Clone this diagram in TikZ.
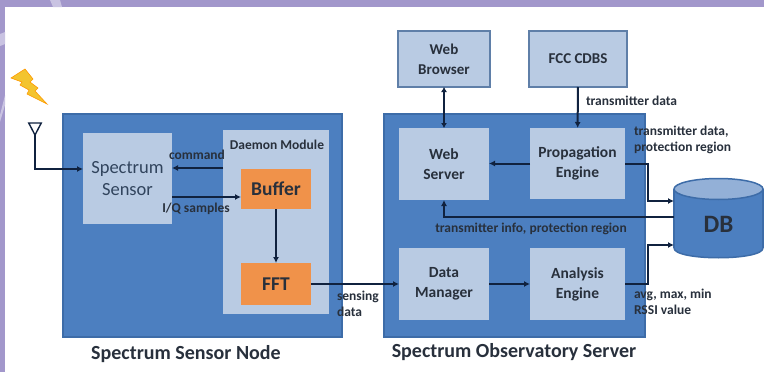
\documentclass[tikz,border=0pt]{standalone}
\usepackage{fontspec}
\setmainfont{Carlito}
\usetikzlibrary{arrows.meta,shapes.geometric}
\definecolor{lav}{HTML}{A297CB}
\definecolor{lavlt}{HTML}{C9C3E2}
\definecolor{outer}{HTML}{4C7FC0}
\definecolor{outerbd}{HTML}{3D6CA8}
\definecolor{inner}{HTML}{B9CBE3}
\definecolor{innerbd}{HTML}{5F7FA8}
\definecolor{orangebox}{HTML}{F0924A}
\definecolor{ink}{HTML}{28303C}
\definecolor{wire}{HTML}{10223F}
\definecolor{boltfill}{HTML}{F3C42E}
\tikzset{
  x=1pt,y=-1pt,
  every node/.style={inner sep=0pt,outer sep=0pt,align=center,text=ink,font=\bfseries\fontsize{13.5}{16}\selectfont},
  outerbox/.style={draw=outerbd,line width=1.5pt,fill=outer},
  lightbox/.style={fill=inner,draw=none,font=\bfseries\fontsize{15.5}{20}\selectfont},
  framedbox/.style={fill=inner,draw=innerbd,line width=1.5pt,font=\bfseries\fontsize{15}{20}\selectfont},
  orangecell/.style={fill=orangebox,draw=none,font=\bfseries\fontsize{19.5}{22}\selectfont},
  wirelabel/.style={font=\bfseries\fontsize{13.5}{16}\selectfont,text=ink},
  caption/.style={font=\bfseries\fontsize{20}{22}\selectfont},
  conn/.style={draw=wire,line width=2pt,-{Latex[length=6pt,width=6pt]}},
  dbl/.style={draw=wire,line width=2pt,{Latex[length=5pt,width=6pt]}-{Latex[length=5pt,width=6pt]}},
}
\newcommand{\pxbox}[6][]{\node[#2,minimum width=#5-#3,minimum height=#6-#4,#1] at ({(#3+#5)/2},{(#4+#6)/2})}
\begin{document}
\begin{tikzpicture}
\useasboundingbox (0,0) rectangle (764,372);
% page background
\fill[white] (0,0) rectangle (764,372);
\fill[lav] (0,0) rectangle (764,7);
\fill[lav] (0,0) rectangle (5,372);
\fill[lavlt] (50,0) -- (60,0) -- (62,7) -- (53,7) -- cycle;
\fill[lavlt] (0,34) -- (5,32) -- (5,44) -- (0,46) -- cycle;
\fill[lavlt] (0,115) -- (5,95) -- (5,105) -- (0,122) -- cycle;
% containers
\pxbox{outerbox}{63}{114}{342}{337} (node) {};
\pxbox{outerbox}{384}{114}{645}{337} (server) {};
\pxbox{lightbox}{223}{130}{329}{314} (daemon) {};
\node (daemonlabel) at (277,145) {Daemon Module};
% sensor node boxes
\pxbox[font=\fontsize{18.5}{22}\selectfont,text=ink!75!outer]{lightbox}{83}{133}{172}{224} (sensor) {Spectrum\\Sensor};
\pxbox{orangecell}{241}{169}{311}{209} (buffer) {Buffer};
\pxbox{orangecell}{241}{263}{311}{305} (fft) {FFT};
% server boxes
\pxbox{framedbox}{398}{31}{490}{87} (browser) {Web\\Browser};
\pxbox{framedbox}{529}{31}{627}{87} (fcc) {FCC CDBS};
\pxbox{lightbox}{399}{128}{489}{200} (webserver) {Web\\Server};
\pxbox{lightbox}{530}{128}{625}{199} (prop) {Propagation\\Engine};
\pxbox{lightbox}{399}{248}{489}{320} (manager) {Data\\Manager};
\pxbox{lightbox}{530}{248}{625}{320} (analysis) {Analysis\\Engine};
% database
\fill[outer] (674,189) rectangle (763,248);
\fill[outer] (718.5,248) ellipse [x radius=44.5,y radius=10];
\draw[outerbd,line width=1.5pt] (674,189) -- (674,248) (763,189) -- (763,248);
\draw[outerbd,line width=1.5pt] (674,248) .. controls (674,261) and (763,261) .. (763,248);
\filldraw[fill=inner!65!outer,draw=outerbd,line width=1.5pt] (718.5,189) ellipse [x radius=44.5,y radius=10.5];
\pxbox[font=\bfseries\fontsize{25}{28}\selectfont]{fill=none}{674}{200}{763}{248} (db) {DB};
% lightning bolt and antenna
\fill[boltfill,draw=orange!80!yellow,line width=.6pt] (11,78) -- (25,69) -- (33,79) -- (30,82) -- (38,88) -- (35,91) -- (47,104) -- (27,94) -- (29,90) -- (20,85) -- (22,82) -- cycle;
\coordinate (anttop) at (35,135);
\node[isosceles triangle,shape border rotate=-90,isosceles triangle apex angle=55,draw=wire,fill=white,line width=1.4pt,minimum height=12pt,minimum width=12pt,anchor=apex] (antenna) at (anttop) {};
% anchor points
\coordinate (antcorner) at (35,169);
\coordinate (cmdright) at (daemon.west |- 0,168);
\coordinate (cmdleft) at (sensor.east |- 0,168);
\coordinate (iqleft) at (sensor.east |- 0,197);
\coordinate (iqright) at (buffer.west |- 0,197);
\coordinate (sensorin) at (sensor.west |- 0,169);
\coordinate (propdb) at (db.west |- 0,201);
\coordinate (webdb) at (db.west |- 0,217);
\coordinate (andb) at (db.west |- 0,245);
\coordinate (propbend) at (648,163.5);
\coordinate (anbend) at (648,284);
% connectors
\draw[conn] (antenna.apex) -- (antcorner) -- (sensorin);
\draw[conn,line width=2.5pt] (cmdright) -- (cmdleft);
\draw[conn,line width=2.5pt] (iqleft) -- (iqright);
\draw[conn] (buffer) -- (fft);
\draw[conn] (fft.east) -- (manager.west);
\draw[conn] (manager.east) -- (analysis.west);
\draw[conn] (prop.west) -- (webserver.east |- prop.west);
\draw[dbl] (browser) -- (webserver);
\draw[conn] (fcc) -- (prop);
\draw[conn] (prop.east |- propbend) -- (propbend) -- (propbend |- propdb) -- (propdb);
\draw[conn] (analysis.east) -- (anbend) -- (anbend |- andb) -- (andb);
\draw[conn,line width=2.5pt] (webdb) -- (webserver.south |- webdb) -- (webserver.south);
% wire labels
\node[wirelabel] (lcommand) at (197,155) {command};
\node[wirelabel] (liq) at (196,209) {I/Q samples};
\node[wirelabel,align=left,anchor=west] (lsensing) at (337,304) {sensing\\data};
\node[wirelabel,anchor=west] (ltx) at (586,101) {transmitter data};
\node[wirelabel,align=left,anchor=west] (ltxp) at (634,140) {transmitter data,\\protection region};
\node[wirelabel] (linfo) at (531,229) {transmitter info, protection region};
\node[wirelabel,align=left,anchor=west] (lavg) at (634,302) {avg, max, min\\RSSI value};
% captions
\node[caption] (capnode) at (186,354) {Spectrum Sensor Node};
\node[caption] (capserver) at (514,352) {Spectrum Observatory Server};
\end{tikzpicture}
\end{document}
